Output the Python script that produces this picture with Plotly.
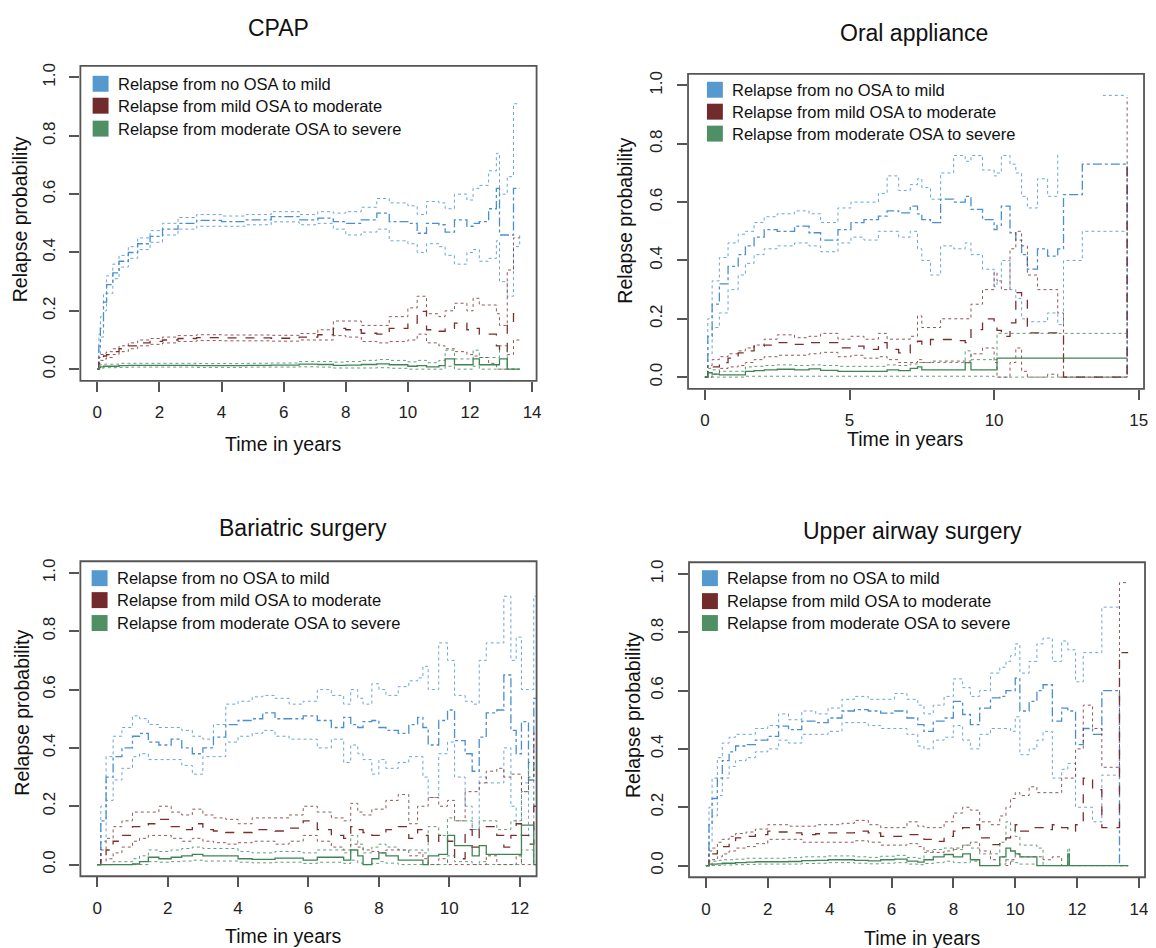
import plotly.graph_objects as go

# page is drawn inside the default 8px body margin, so place everything in page pixels
PAGE_W, PAGE_H = 1156, 948
OFF = 8
W, H = PAGE_W - OFF, PAGE_H - OFF
FONT = "Liberation Sans, Arial, Helvetica, sans-serif"

LABELS = ["Relapse from no OSA to mild",
          "Relapse from mild OSA to moderate",
          "Relapse from moderate OSA to severe"]
LINE_COLORS = ["#4a8fd0", "#7a2f2f", "#3f8455"]
KEY_COLORS = ["#5599cf", "#722b2b", "#4e8f63"]
DASHES = ["dashdot", "dash", "solid"]

# ---- CPAP ----
cpap_t = [0, 0.05, 0.1, 0.2, 0.3, 0.5, 0.7, 1.0, 1.3, 1.7,
          2.1, 2.6, 3.2, 4.0, 4.8, 5.6, 6.5, 7.1, 7.6, 8.0,
          8.5, 9.0, 9.4, 10.0, 10.3, 10.6, 11.0, 11.2, 11.5, 11.9,
          12.1, 12.3, 12.6, 12.85, 12.95, 13.2, 13.4, 13.6]
cpap_mild = [0, 0.08, 0.14, 0.23, 0.29, 0.33, 0.37, 0.40, 0.43, 0.455,
             0.48, 0.50, 0.51, 0.506, 0.512, 0.523, 0.512, 0.518, 0.506, 0.50,
             0.512, 0.535, 0.506, 0.50, 0.466, 0.50, 0.495, 0.47, 0.512, 0.49,
             0.50, 0.506, 0.55, 0.62, 0.46, 0.46, 0.62, 0.62]
cpap_mild_lo = [0, 0.05, 0.11, 0.20, 0.26, 0.31, 0.35, 0.38, 0.41, 0.435,
                0.46, 0.48, 0.49, 0.49, 0.495, 0.505, 0.495, 0.50, 0.48, 0.46,
                0.47, 0.48, 0.44, 0.43, 0.40, 0.43, 0.42, 0.39, 0.36, 0.40,
                0.41, 0.37, 0.38, 0.44, 0.30, 0.25, 0.42, 0.46]
cpap_mild_hi = [0, 0.12, 0.18, 0.26, 0.32, 0.36, 0.39, 0.42, 0.45, 0.475,
                0.50, 0.52, 0.53, 0.525, 0.53, 0.54, 0.53, 0.54, 0.535, 0.54,
                0.555, 0.585, 0.57, 0.56, 0.53, 0.575, 0.57, 0.55, 0.60, 0.58,
                0.62, 0.63, 0.68, 0.74, 0.60, 0.66, 0.91, 0.91]
cpap_mod = [0, 0.03, 0.04, 0.045, 0.05, 0.06, 0.07, 0.08, 0.09, 0.095,
            0.10, 0.105, 0.108, 0.107, 0.107, 0.106, 0.11, 0.118, 0.14, 0.135,
            0.123, 0.12, 0.14, 0.158, 0.198, 0.135, 0.13, 0.14, 0.158, 0.135,
            0.14, 0.12, 0.12, 0.08, 0.06, 0.15, 0.19, 0.19]
cpap_mod_lo = [0, 0.02, 0.03, 0.035, 0.04, 0.05, 0.06, 0.07, 0.08, 0.085,
               0.09, 0.095, 0.098, 0.097, 0.097, 0.096, 0.10, 0.10, 0.115, 0.11,
               0.095, 0.09, 0.095, 0.10, 0.12, 0.09, 0.08, 0.07, 0.06, 0.05,
               0.045, 0.04, 0.02, 0.0, 0.0, 0.05, 0.10, 0.10]
cpap_mod_hi = [0, 0.04, 0.05, 0.055, 0.06, 0.07, 0.08, 0.09, 0.10, 0.105,
               0.11, 0.115, 0.118, 0.117, 0.117, 0.116, 0.122, 0.135, 0.165, 0.165,
               0.15, 0.15, 0.18, 0.21, 0.25, 0.19, 0.18, 0.20, 0.226, 0.20,
               0.243, 0.22, 0.22, 0.19, 0.15, 0.34, 0.45, 0.45]
cpap_sev = [0, 0.005, 0.008, 0.01, 0.01, 0.01, 0.012, 0.013, 0.013, 0.013,
            0.013, 0.013, 0.012, 0.012, 0.013, 0.014, 0.017, 0.016, 0.013, 0.014,
            0.016, 0.018, 0.015, 0.01, 0.012, 0.008, 0.012, 0.035, 0.015, 0.015,
            0.035, 0.015, 0.015, 0.015, 0.035, 0.0, 0.0, 0.0]
cpap_sev_lo = [0, 0, 0.003, 0.005, 0.005, 0.005, 0.006, 0.007, 0.007, 0.007,
               0.007, 0.007, 0.006, 0.006, 0.007, 0.007, 0.008, 0.007, 0.004, 0.004,
               0.004, 0.005, 0.003, 0.0, 0.0, 0.0, 0.0, 0.01, 0.0, 0.0,
               0.01, 0.0, 0.0, 0.0, 0.0, 0.0, 0.0, 0.0]
cpap_sev_hi = [0, 0.012, 0.015, 0.017, 0.017, 0.017, 0.02, 0.02, 0.02, 0.02,
               0.02, 0.02, 0.019, 0.019, 0.02, 0.021, 0.026, 0.026, 0.024, 0.026,
               0.03, 0.033, 0.03, 0.025, 0.03, 0.022, 0.03, 0.065, 0.035, 0.035,
               0.065, 0.04, 0.04, 0.04, 0.08, 0.0, 0.0, 0.0]

# ---- Oral appliance ----
oral_t = [0, 0.1, 0.25, 0.5, 0.8, 1.15, 1.4, 1.7, 2.05, 2.5,
          3.1, 3.6, 4.0, 4.6, 5.05, 5.5, 6.0, 6.3, 6.7, 7.1,
          7.35, 7.5, 7.8, 8.15, 8.6, 9.0, 9.2, 9.6, 10.0, 10.1,
          10.25, 10.55, 10.75, 10.95, 11.15, 11.5, 11.85, 12.2, 12.4, 13.05,
          13.76, 14.6]
oral_mild = [0, 0.14, 0.25, 0.32, 0.38, 0.42, 0.45, 0.48, 0.506, 0.50,
             0.518, 0.495, 0.47, 0.506, 0.53, 0.54, 0.552, 0.57, 0.563, 0.586,
             0.56, 0.54, 0.53, 0.61, 0.60, 0.62, 0.575, 0.54, 0.506, 0.52,
             0.586, 0.495, 0.47, 0.42, 0.37, 0.44, 0.415, 0.44, 0.626, 0.73,
             0.73, 0.0]
oral_mild_lo = [0, 0.08, 0.17, 0.22, 0.30, 0.35, 0.39, 0.42, 0.44, 0.45,
                0.46, 0.45, 0.43, 0.46, 0.48, 0.47, 0.50, 0.50, 0.48, 0.50,
                0.44, 0.40, 0.35, 0.45, 0.44, 0.46, 0.42, 0.37, 0.31, 0.33,
                0.40, 0.30, 0.27, 0.20, 0.19, 0.19, 0.22, 0.18, 0.40, 0.50,
                0.50, 0.50]
oral_mild_hi = [0, 0.2, 0.33, 0.41, 0.46, 0.49, 0.50, 0.53, 0.55, 0.56,
                0.57, 0.56, 0.53, 0.58, 0.60, 0.60, 0.63, 0.69, 0.64, 0.66,
                0.68, 0.65, 0.61, 0.70, 0.76, 0.74, 0.76, 0.71, 0.69, 0.70,
                0.76, 0.73, 0.70, 0.62, 0.58, 0.68, 0.62, 0.77, None, None,
                0.966, 0.966]
oral_mod = [0, 0.02, 0.035, 0.05, 0.065, 0.083, 0.09, 0.106, 0.11, 0.118,
            0.112, 0.118, 0.118, 0.10, 0.106, 0.095, 0.118, 0.095, 0.083, 0.11,
            0.123, 0.11, 0.129, 0.129, 0.125, 0.118, 0.163, 0.20, 0.186, 0.16,
            0.14, 0.186, 0.29, 0.266, 0.152, 0.152, 0.152, 0.152, 0.0, 0.0,
            0.0, 0.72]
oral_mod_lo = [0, 0.0, 0.01, 0.03, 0.035, 0.04, 0.05, 0.06, 0.07, 0.075,
               0.075, 0.08, 0.085, 0.07, 0.075, 0.065, 0.07, 0.06, 0.05, 0.05,
               0.06, 0.05, 0.055, 0.055, 0.055, 0.055, 0.08, 0.10, 0.05, 0.0,
               0.0, 0.05, 0.10, 0.02, 0.0, 0.0, 0.01, 0.0, 0.0, 0.0,
               0.0, 0.0]
oral_mod_hi = [0, 0.04, 0.06, 0.07, 0.08, 0.09, 0.10, 0.11, 0.13, 0.145,
               0.135, 0.14, 0.15, 0.13, 0.14, 0.13, 0.15, 0.13, 0.13, 0.14,
               0.21, 0.17, 0.17, 0.20, 0.20, 0.20, 0.25, 0.30, 0.36, 0.33,
               0.30, 0.44, 0.50, 0.45, 0.35, 0.30, 0.30, 0.22, 0.0, 0.0,
               0.0, 0.96]
oral_sev = [0, 0.015, 0.01, 0.008, 0.008, 0.008, 0.02, 0.022, 0.025, 0.027,
            0.025, 0.028, 0.023, 0.02, 0.02, 0.02, 0.02, 0.025, 0.022, 0.03,
            0.035, 0.025, 0.025, 0.025, 0.025, 0.05, 0.025, 0.025, 0.025, 0.065,
            0.065, 0.065, 0.065, 0.065, 0.065, 0.065, 0.065, 0.065, 0.065, 0.065,
            0.065, 0.065]
oral_sev_lo = [0, 0.0, 0.0, 0.0, 0.0, 0.0, 0.003, 0.003, 0.003, 0.003,
               0.003, 0.003, 0.003, 0.003, 0.003, 0.003, 0.003, 0.003, 0.003, 0.003,
               0.003, 0.003, 0.003, 0.003, 0.003, 0.003, 0.003, 0.003, 0.0, 0.0,
               0.0, 0.0, 0.0, 0.0, 0.0, 0.0, 0.0, 0.0, 0.0, 0.0,
               0.0, 0.0]
oral_sev_hi = [0, 0.03, 0.025, 0.02, 0.02, 0.02, 0.035, 0.037, 0.04, 0.042,
               0.04, 0.042, 0.04, 0.037, 0.037, 0.037, 0.037, 0.042, 0.04, 0.045,
               0.05, 0.05, 0.05, 0.05, 0.05, 0.09, 0.06, 0.06, 0.06, 0.15,
               0.15, 0.15, 0.15, 0.15, 0.15, 0.15, 0.15, 0.15, 0.15, 0.15,
               0.15, 0.15]

# ---- Bariatric surgery ----
bari_t = [0, 0.1, 0.25, 0.45, 0.7, 1.0, 1.2, 1.45, 1.75, 2.1,
          2.4, 2.7, 3.0, 3.3, 3.65, 4.0, 4.4, 4.7, 5.05, 5.45,
          5.85, 6.25, 6.65, 7.0, 7.2, 7.4, 7.55, 7.8, 8.0, 8.2,
          8.55, 8.85, 9.1, 9.25, 9.4, 9.7, 9.95, 10.15, 10.45, 10.65,
          10.85, 11.05, 11.35, 11.55, 11.75, 11.9, 12.05, 12.25, 12.4, 12.47]
bari_mild = [0, 0.15, 0.30, 0.37, 0.40, 0.44, 0.45, 0.42, 0.41, 0.43,
             0.40, 0.38, 0.40, 0.437, 0.48, 0.494, 0.50, 0.52, 0.50, 0.50,
             0.51, 0.494, 0.47, 0.505, 0.48, 0.47, 0.49, 0.494, 0.47, 0.46,
             0.45, 0.48, 0.505, 0.47, 0.41, 0.494, 0.53, 0.425, 0.38, 0.32,
             0.437, 0.52, 0.53, 0.65, 0.46, 0.38, 0.49, 0.29, 0.57, 0.57]
bari_mild_lo = [0, 0.08, 0.22, 0.29, 0.33, 0.37, 0.38, 0.36, 0.36, 0.36,
                0.34, 0.31, 0.37, 0.37, 0.42, 0.44, 0.45, 0.46, 0.44, 0.43,
                0.43, 0.40, 0.43, 0.35, 0.41, 0.38, 0.36, 0.31, 0.36, 0.33,
                0.35, 0.37, 0.37, 0.30, 0.23, 0.38, 0.42, 0.30, 0.20, 0.12,
                0.30, 0.28, 0.28, 0.40, 0.20, 0.14, 0.28, 0.10, 0.25, 0.25]
bari_mild_hi = [0, 0.2, 0.37, 0.44, 0.47, 0.51, 0.50, 0.48, 0.47, 0.47,
                0.46, 0.44, 0.43, 0.48, 0.55, 0.56, 0.575, 0.58, 0.57, 0.55,
                0.56, 0.60, 0.58, 0.55, 0.60, 0.57, 0.55, 0.62, 0.60, 0.58,
                0.61, 0.63, 0.64, 0.68, 0.60, 0.76, 0.70, 0.58, 0.56, 0.55,
                0.70, 0.76, 0.76, 0.92, 0.70, 0.78, 0.60, 0.60, 0.92, 0.92]
bari_mod = [0, 0.02, 0.05, 0.08, 0.10, 0.13, 0.13, 0.14, 0.155, 0.13,
            0.12, 0.14, 0.12, 0.115, 0.11, 0.11, 0.12, 0.12, 0.115, 0.125,
            0.15, 0.12, 0.10, 0.09, 0.13, 0.12, 0.11, 0.10, 0.10, 0.12,
            0.13, 0.09, 0.12, 0.10, 0.08, 0.10, 0.08, 0.02, 0.12, 0.06,
            0.13, 0.13, 0.10, 0.06, 0.10, 0.14, 0.10, 0.07, 0.20, 0.20]
bari_mod_lo = [0, 0.0, 0.02, 0.04, 0.06, 0.08, 0.09, 0.10, 0.10, 0.09,
               0.08, 0.09, 0.08, 0.075, 0.07, 0.075, 0.08, 0.08, 0.07, 0.08,
               0.10, 0.08, 0.06, 0.05, 0.07, 0.06, 0.05, 0.045, 0.04, 0.05,
               0.05, 0.03, 0.04, 0.02, 0.0, 0.02, 0.0, 0.0, 0.0, 0.0,
               0.0, 0.03, 0.0, 0.0, 0.0, 0.03, 0.0, 0.0, 0.0, 0.0]
bari_mod_hi = [0, 0.05, 0.09, 0.13, 0.15, 0.18, 0.18, 0.18, 0.20, 0.18,
               0.17, 0.19, 0.17, 0.16, 0.155, 0.14, 0.16, 0.16, 0.16, 0.17,
               0.20, 0.18, 0.16, 0.15, 0.21, 0.18, 0.17, 0.19, 0.19, 0.22,
               0.24, 0.14, 0.20, 0.20, 0.23, 0.20, 0.22, 0.15, 0.25, 0.25,
               0.28, 0.32, 0.33, 0.30, 0.31, 0.31, 0.25, 0.30, 0.45, 0.45]
bari_sev = [0, 0.0, 0.0, 0.0, 0.0, 0.002, 0.01, 0.025, 0.02, 0.025,
            0.03, 0.035, 0.03, 0.03, 0.03, 0.02, 0.018, 0.018, 0.022, 0.022,
            0.015, 0.025, 0.025, 0.015, 0.05, 0.03, 0.0, 0.02, 0.04, 0.03,
            0.015, 0.015, 0.015, 0.0, 0.03, 0.035, 0.1, 0.065, 0.065, 0.03,
            0.065, 0.035, 0.035, 0.035, 0.035, 0.035, 0.135, 0.135, 0.0, 0.0]
bari_sev_lo = [0, 0, 0, 0, 0, 0, 0, 0.01, 0.008, 0.01,
               0.012, 0.015, 0.012, 0.012, 0.012, 0.008, 0.006, 0.006, 0.008, 0.008,
               0.004, 0.008, 0.008, 0.004, 0.015, 0.005, 0.0, 0.004, 0.01, 0.005,
               0, 0, 0, 0, 0, 0, 0.03, 0.01, 0.01, 0,
               0.01, 0, 0, 0, 0, 0, 0.05, 0.05, 0, 0]
bari_sev_hi = [0, 0.0, 0.0, 0.01, 0.01, 0.02, 0.03, 0.05, 0.045, 0.05,
               0.055, 0.06, 0.055, 0.055, 0.055, 0.045, 0.04, 0.04, 0.045, 0.045,
               0.04, 0.05, 0.05, 0.04, 0.10, 0.07, 0.04, 0.06, 0.07, 0.06,
               0.05, 0.05, 0.05, 0.04, 0.13, 0.10, 0.16, 0.15, 0.15, 0.12,
               0.15, 0.15, 0.12, 0.12, 0.15, 0.15, 0.25, 0.35, 0.2, 0.2]

# ---- Upper airway surgery ----
uas_t = [0, 0.1, 0.2, 0.37, 0.53, 0.75, 0.96, 1.3, 1.6, 2.0,
         2.35, 2.67, 3.1, 3.55, 3.95, 4.4, 4.8, 5.25, 5.65, 6.1,
         6.5, 6.85, 7.05, 7.35, 7.7, 8.0, 8.3, 8.55, 8.85, 9.2,
         9.5, 9.7, 9.85, 10.0, 10.15, 10.45, 10.7, 10.9, 11.2, 11.5,
         11.7, 11.75, 11.95, 12.2, 12.5, 12.8, 13.37, 13.65]
uas_mild = [0, 0.14, 0.23, 0.30, 0.36, 0.39, 0.41, 0.415, 0.43, 0.443,
            0.478, 0.466, 0.495, 0.49, 0.506, 0.53, 0.535, 0.53, 0.523, 0.53,
            0.506, 0.483, 0.46, 0.495, 0.506, 0.563, 0.518, 0.483, 0.54, 0.575,
            0.58, 0.60, 0.60, 0.643, 0.53, 0.563, 0.60, 0.62, 0.495, 0.54,
            0.53, 0.53, 0.415, 0.47, 0.45, 0.60, 0.0, 0.0]
uas_mild_lo = [0, 0.08, 0.17, 0.24, 0.30, 0.34, 0.36, 0.37, 0.39, 0.40,
               0.43, 0.42, 0.45, 0.45, 0.46, 0.49, 0.49, 0.48, 0.47, 0.47,
               0.45, 0.41, 0.40, 0.43, 0.44, 0.48, 0.43, 0.40, 0.45, 0.47,
               0.47, 0.47, 0.46, 0.51, 0.38, 0.40, 0.43, 0.46, 0.30, 0.33,
               0.35, 0.35, 0.20, 0.20, 0.15, 0.31, 0.31, None]
uas_mild_hi = [0, 0.2, 0.3, 0.37, 0.42, 0.44, 0.45, 0.45, 0.47, 0.48,
               0.52, 0.50, 0.53, 0.52, 0.54, 0.57, 0.58, 0.57, 0.57, 0.59,
               0.57, 0.55, 0.52, 0.55, 0.58, 0.64, 0.61, 0.58, 0.60, 0.66,
               0.68, 0.70, 0.72, 0.76, 0.66, 0.70, 0.76, 0.78, 0.70, 0.77,
               0.74, 0.74, 0.63, 0.73, 0.73, 0.886, 0.886, None]
uas_mod = [0, 0.026, 0.04, 0.055, 0.065, 0.078, 0.095, 0.10, 0.106, 0.118,
           0.115, 0.112, 0.106, 0.109, 0.112, 0.112, 0.118, 0.112, 0.10, 0.10,
           0.106, 0.095, 0.09, 0.083, 0.10, 0.118, 0.13, 0.14, 0.095, 0.072,
           0.083, 0.095, 0.12, 0.14, 0.118, 0.13, 0.13, 0.123, 0.14, 0.13,
           0.118, 0.118, 0.14, 0.30, 0.26, 0.13, 0.73, 0.73]
uas_mod_lo = [0, 0.0, 0.02, 0.03, 0.04, 0.05, 0.06, 0.065, 0.075, 0.09,
              0.09, 0.09, 0.08, 0.08, 0.08, 0.08, 0.085, 0.08, 0.07, 0.07,
              0.075, 0.065, 0.05, 0.045, 0.05, 0.06, 0.07, 0.08, 0.05, 0.02,
              0.03, 0.0, 0.02, 0.04, 0.03, 0.03, 0.03, 0.02, 0.03, 0.0,
              0.0, 0.0, 0.0, 0.0, 0.0, 0.0, 0.0, 0.0]
uas_mod_hi = [0, 0.05, 0.06, 0.08, 0.09, 0.10, 0.11, 0.115, 0.125, 0.14,
              0.14, 0.135, 0.135, 0.14, 0.14, 0.145, 0.155, 0.14, 0.13, 0.13,
              0.15, 0.135, 0.13, 0.13, 0.15, 0.18, 0.20, 0.19, 0.15, 0.14,
              0.17, 0.20, 0.23, 0.25, 0.24, 0.27, 0.25, 0.25, 0.25, 0.30,
              0.30, 0.30, 0.40, 0.55, 0.47, 0.337, 0.97, 0.97]
uas_sev = [0, 0.005, 0.005, 0.006, 0.008, 0.008, 0.01, 0.012, 0.013, 0.013,
           0.013, 0.014, 0.017, 0.018, 0.02, 0.02, 0.018, 0.016, 0.02, 0.022,
           0.015, 0.012, 0.02, 0.03, 0.038, 0.03, 0.04, 0.02, 0.0, 0.0,
           0.03, 0.06, 0.05, 0.04, 0.03, 0.03, 0.0, 0.0, 0.0, 0.0,
           0.04, 0.0, 0.0, 0.0, 0.0, 0.0, 0.0, 0.0]
uas_sev_lo = [0, 0, 0, 0, 0.002, 0.002, 0.003, 0.004, 0.005, 0.005,
              0.005, 0.005, 0.007, 0.008, 0.01, 0.01, 0.008, 0.006, 0.008, 0.01,
              0.005, 0.003, 0.007, 0.01, 0.015, 0.01, 0.01, 0.015, 0.0, 0.0,
              0.005, 0.02, 0.015, 0.01, 0.005, 0.005, 0, 0, 0, 0,
              0.01, 0, 0, 0, 0, 0, 0, 0]
uas_sev_hi = [0, 0.015, 0.015, 0.018, 0.02, 0.02, 0.022, 0.025, 0.025, 0.025,
              0.025, 0.027, 0.03, 0.03, 0.033, 0.033, 0.03, 0.028, 0.032, 0.035,
              0.028, 0.025, 0.045, 0.055, 0.06, 0.055, 0.07, 0.06, 0.04, 0.04,
              0.08, 0.15, 0.12, 0.10, 0.07, 0.07, 0.06, 0.0, 0.0, 0.0,
              0.06, 0.0, 0.0, 0.0, 0.0, 0.0, 0.0, 0.0]

y_ticks = [0, 0.2, 0.4, 0.6, 0.8, 1.0]

panels = [
    dict(title="CPAP", t=cpap_t,
         series=[(cpap_mild, cpap_mild_lo, cpap_mild_hi),
                 (cpap_mod, cpap_mod_lo, cpap_mod_hi),
                 (cpap_sev, cpap_sev_lo, cpap_sev_hi)],
         xticks=[0, 2, 4, 6, 8, 10, 12, 14], xrange=[-0.544, 14.144],
         box=(80.7, 538.9, 63, 379), title_xy=(280, 25), xlab_xy=(285, 442),
         ylab_xy=(20, 217), key_x=101, key_rows=(81, 103, 126)),
    dict(title="Oral appliance", t=oral_t,
         series=[(oral_mild, oral_mild_lo, oral_mild_hi),
                 (oral_mod, oral_mod_lo, oral_mod_hi),
                 (oral_sev, oral_sev_lo, oral_sev_hi)],
         xticks=[0, 5, 10, 15], xrange=[-0.584, 15.184],
         box=(691, 1149, 71, 387), title_xy=(918, 30), xlab_xy=(909, 437),
         ylab_xy=(628, 218), key_x=718, key_rows=(87, 109, 131)),
    dict(title="Bariatric surgery", t=bari_t,
         series=[(bari_mild, bari_mild_lo, bari_mild_hi),
                 (bari_mod, bari_mod_lo, bari_mod_hi),
                 (bari_sev, bari_sev_lo, bari_sev_hi)],
         xticks=[0, 2, 4, 6, 8, 10, 12], xrange=[-0.48, 12.48],
         box=(80.7, 538.9, 560, 876), title_xy=(304, 527), xlab_xy=(285, 936),
         ylab_xy=(22, 712), key_x=100, key_rows=(577, 599, 622)),
    dict(title="Upper airway surgery", t=uas_t,
         series=[(uas_mild, uas_mild_lo, uas_mild_hi),
                 (uas_mod, uas_mod_lo, uas_mod_hi),
                 (uas_sev, uas_sev_lo, uas_sev_hi)],
         xticks=[0, 2, 4, 6, 8, 10, 12, 14], xrange=[-0.546, 14.196],
         box=(692, 1150, 561, 877), title_xy=(916, 530), xlab_xy=(927, 938),
         ylab_xy=(635, 714), key_x=713, key_rows=(577, 600, 622)),
]


def px(x):
    return (x - OFF) / W


def py(y):
    return 1 - (y - OFF) / H


fig = go.Figure()
annotations = []
shapes = []
layout = {}

for i, p in enumerate(panels, start=1):
    xa = "x" if i == 1 else f"x{i}"
    ya = "y" if i == 1 else f"y{i}"
    for k, (est, lo, hi) in enumerate(p["series"]):
        for band in (lo, hi):
            fig.add_trace(go.Scatter(
                x=p["t"], y=band, mode="lines", line_shape="hv",
                line=dict(color=LINE_COLORS[k], width=1.0, dash="dot"),
                opacity=0.8, xaxis=xa, yaxis=ya, showlegend=False,
                hoverinfo="skip"))
        fig.add_trace(go.Scatter(
            x=p["t"], y=est, mode="lines", line_shape="hv",
            line=dict(color=LINE_COLORS[k], width=1.3, dash=DASHES[k]),
            xaxis=xa, yaxis=ya, showlegend=False, name=LABELS[k]))

    x0, x1, y0, y1 = p["box"]
    axis_font = dict(family=FONT, size=17, color="#222222")
    sfx = "" if i == 1 else str(i)
    layout[f"xaxis{sfx}"] = dict(
        domain=[px(x0), px(x1)], range=p["xrange"], anchor=ya,
        tickvals=p["xticks"], ticks="outside", ticklen=10, tickwidth=1.5,
        tickcolor="#555555", showgrid=False, zeroline=False, showline=False,
        tickfont=axis_font, ticklabelstandoff=6)
    layout[f"yaxis{sfx}"] = dict(
        domain=[py(y1), py(y0)], range=[-0.04, 1.04], anchor=xa,
        tickvals=y_ticks, tickformat=".1f", ticks="outside", ticklen=10,
        tickwidth=1.5, tickcolor="#555555", showgrid=False, zeroline=False,
        showline=False, tickangle=-90, tickfont=axis_font, ticklabelstandoff=8)
    shapes.append(dict(type="rect", xref=f"{xa} domain", yref=f"{ya} domain",
                       x0=0, x1=1, y0=0, y1=1,
                       line=dict(color="#555555", width=1.8), layer="above"))
    annotations.append(dict(text=p["title"], x=px(p["title_xy"][0]),
                            y=py(p["title_xy"][1]), xref="paper", yref="paper",
                            showarrow=False, xanchor="center", yanchor="middle",
                            font=dict(family=FONT, size=23, color="#111111")))
    annotations.append(dict(text="Time in years", x=px(p["xlab_xy"][0]),
                            y=py(p["xlab_xy"][1]), xref="paper", yref="paper",
                            showarrow=False, xanchor="center", yanchor="middle",
                            font=dict(family=FONT, size=19.5, color="#111111")))
    annotations.append(dict(text="Relapse probability", x=px(p["ylab_xy"][0]),
                            y=py(p["ylab_xy"][1]), xref="paper", yref="paper",
                            showarrow=False, xanchor="center", yanchor="middle",
                            textangle=-90,
                            font=dict(family=FONT, size=19.5, color="#111111")))
    # key: filled squares + labels in the top-left corner of each panel
    for k, row in enumerate(p["key_rows"]):
        shapes.append(dict(type="rect", xref="paper", yref="paper",
                           x0=px(p["key_x"] - 8), x1=px(p["key_x"] + 8),
                           y0=py(row + 8), y1=py(row - 8),
                           fillcolor=KEY_COLORS[k], line=dict(width=0),
                           layer="above"))
        annotations.append(dict(text=LABELS[k], x=px(p["key_x"] + 15),
                                y=py(row), xref="paper", yref="paper",
                                showarrow=False, xanchor="left",
                                yanchor="middle",
                                font=dict(family=FONT, size=16.5,
                                          color="#111111")))

fig.update_layout(
    width=W, height=H, margin=dict(l=0, r=0, t=0, b=0),
    paper_bgcolor="white", plot_bgcolor="white", showlegend=False,
    annotations=annotations, shapes=shapes, **layout)

fig.write_html("out.html")
